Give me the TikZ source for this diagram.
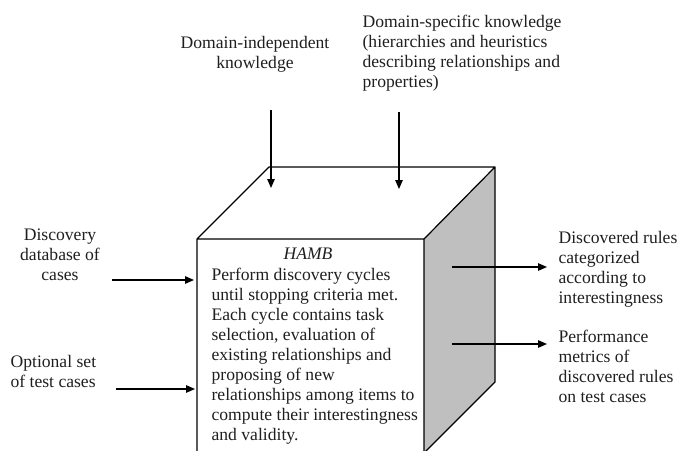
\documentclass[tikz,border=0pt]{standalone}
\usepackage{fontspec}
\setmainfont{Liberation Serif}
\usetikzlibrary{arrows.meta}
\begin{document}
\begin{tikzpicture}[x=1pt,y=-1pt,>={Triangle[length=9pt,width=7.5pt]},line width=1.2pt,line join=round,
  every node/.style={font=\fontsize{17.6}{20}\selectfont,inner sep=0pt,text=black!88},
  txt/.style={align=left,anchor=base west},
  ctr/.style={align=center,anchor=base}]
  \clip (0,0) rectangle (680,450);
  % cube corners
  \coordinate (A) at (197,239); \coordinate (B) at (424,239); \coordinate (C) at (495,167); \coordinate (D) at (269,167);
  \coordinate (E) at (495,382); \coordinate (F) at (424,453); \coordinate (G) at (197,453);
  \fill[black!25] (B)--(C)--(E)--(F)--cycle;
  \draw (G)--(A)--(B)--(F) (A)--(D)--(C)--(B) (C)--(E)--(F);
  % labels (placed at the baseline of their last line)
  \node[ctr] (indep) at (255,68) {Domain-independent\\knowledge};
  \node[txt] (spec) at (362,87) {Domain-specific knowledge\\(hierarchies and heuristics\\describing relationships and\\properties)};
  \node[ctr] (discdb) at (60,280) {Discovery\\database of\\cases};
  \node[txt] (optset) at (10,387) {Optional set\\of test cases};
  \node[ctr,font=\fontsize{17.6}{20}\selectfont\itshape] (hamb) at (308,259) {HAMB};
  \node[txt] (cycles) at (211,440) {Perform discovery cycles\\until stopping criteria met.\\Each cycle contains task\\selection, evaluation of\\existing relationships and\\proposing of new\\relationships among items to\\compute their interestingness\\and validity.};
  \node[txt] (rules) at (558,303) {Discovered rules\\categorized\\according to\\interestingness};
  \node[txt] (perf) at (558,402) {Performance\\metrics of\\discovered rules\\on test cases};
  % arrow ends
  \coordinate (i1) at (271,110); \coordinate (i2) at (271,188);
  \coordinate (s1) at (399,112); \coordinate (s2) at (399,189);
  \coordinate (d1) at (112,280); \coordinate (d2) at (194,280);
  \coordinate (o1) at (116,389); \coordinate (o2) at (195,389);
  \coordinate (r1) at (452,267); \coordinate (r2) at (547,267);
  \coordinate (p1) at (452,344); \coordinate (p2) at (547,344);
  \draw[->] (i1)--(i2);
  \draw[->] (s1)--(s2);
  \draw[->] (d1)--(d2);
  \draw[->] (o1)--(o2);
  \draw[->] (r1)--(r2);
  \draw[->] (p1)--(p2);
\end{tikzpicture}
\end{document}
